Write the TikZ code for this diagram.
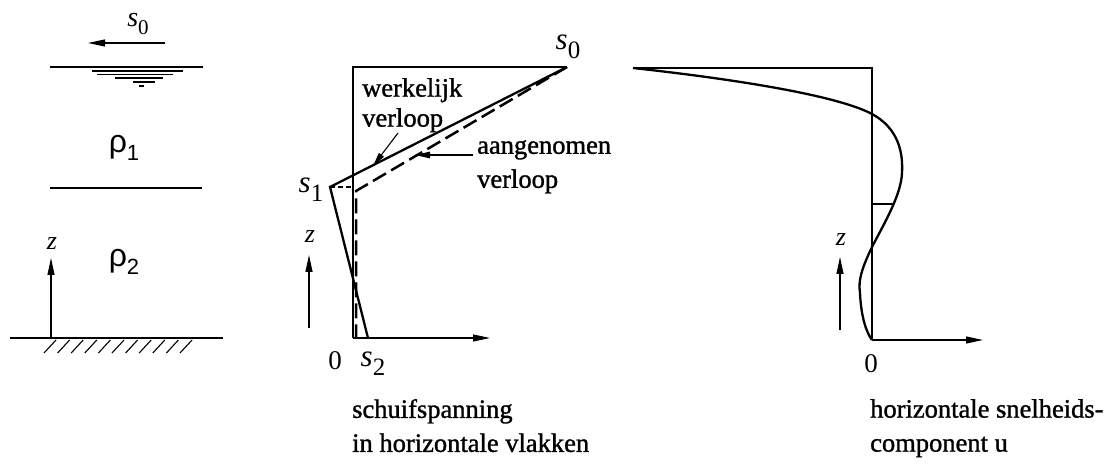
\documentclass[tikz,border=0pt]{standalone}
\usepackage{fontspec}
\setmainfont{Liberation Serif}
\newfontfamily\lblfont[FakeBold=1.2]{Liberation Serif}
\newfontfamily\rhofont{Liberation Sans}
\usetikzlibrary{arrows.meta}
\newcommand\symsub[4]{\fontsize{#3}{#3}\selectfont\textit{#1}\raisebox{-0.3em}{\fontsize{#4}{#4}\selectfont\upshape #2}}
\begin{document}
\begin{tikzpicture}[x=1pt,y=-1pt,
  thickline/.style={line width=2.8pt},
  medline/.style={line width=2.3pt},
  thinline/.style={line width=1.1pt},
  thinarrow/.style={line width=1.1pt,-{Triangle[length=17pt,width=7pt]}},
  lbl/.style={inner sep=0pt,font=\lblfont\fontsize{26.5}{34}\selectfont,align=left,anchor=north west},
  sym/.style={inner sep=0pt}]
\useasboundingbox (0,0) rectangle (1114,470);

% ---------- left panel ----------
\node[sym] (s0L) at (138,24) {\symsub{s}{0}{28}{21}};
\coordinate (a0s) at (165,43);
\coordinate (a0e) at (88,43);
\draw[thinarrow] (a0s) -- (a0e);
\coordinate (surfL) at (50,67);
\coordinate (surfR) at (203,67);
\draw[thickline] (surfL) -- (surfR);
\draw[thinline] (92,71) -- (183,71);
\draw[thinline] (97,74.5) -- (173,74.5);
\draw[thinline] (115,78) -- (163,78);
\draw[thinline] (133,82) -- (155,82);
\draw[thinline] (139,86) -- (144,86);
\node[sym] (rho1) at (124,148) {\fontsize{32}{32}\selectfont\rhofont ρ\raisebox{-0.25em}{\fontsize{22}{22}\selectfont 1}};
\coordinate (ifL) at (50,188);
\coordinate (ifR) at (202,188);
\draw[thickline] (ifL) -- (ifR);
\node[sym] (zL) at (52,244) {\fontsize{26}{26}\selectfont\textit{z}};
\coordinate (zLs) at (51,337);
\coordinate (zLe) at (51,258);
\draw[thinarrow] (zLs) -- (zLe);
\node[sym] (rho2) at (124,262) {\fontsize{32}{32}\selectfont\rhofont ρ\raisebox{-0.25em}{\fontsize{22}{22}\selectfont 2}};
\coordinate (botL) at (10,338);
\coordinate (botR) at (223,338);
\draw[thickline] (botL) -- (botR);
\foreach \i in {0,...,10}
  \draw[thinline] ({44+13.6*\i},353) -- ({56+13.6*\i},340);

% ---------- middle panel ----------
\coordinate (O1) at (353,338);
\coordinate (T1) at (353,67);
\coordinate (S0) at (567,67);
\coordinate (S1) at (330,187);
\coordinate (S2) at (368,338);
\coordinate (A1) at (353,187);
\coordinate (D1) at (356,191);
\coordinate (D2) at (356,338);
\coordinate (X1) at (490,338);
\draw[thickline] (O1) -- (T1) -- (S0);
\draw[medline] (S0) -- (S1) -- (S2);
\draw[line width=2pt,dash pattern=on 5pt off 3pt] (S1) -- (A1);
\draw[line width=2.5pt,dash pattern=on 15pt off 6pt] (S0) -- (D1) -- (D2);
\draw[thinarrow] (O1) -- (X1);
\node[sym] (s0M) at (568,47) {\symsub{s}{0}{31}{25}};
\node[sym] (s1M) at (311,190) {\symsub{s}{1}{31}{25}};
\node[sym] (s2M) at (373,364) {\symsub{s}{2}{31}{25}};
\node[sym] (zeroM) at (335,361) {\fontsize{27}{27}\selectfont 0};
\node[sym] (zM) at (310,237) {\fontsize{26}{26}\selectfont\textit{z}};
\coordinate (zMs) at (309,328);
\coordinate (zMe) at (309,255);
\draw[thinarrow] (zMs) -- (zMe);
\node[lbl,font=\lblfont\fontsize{26.5}{30}\selectfont] (werk) at (362,78) {werkelijk\\verloop};
\coordinate (wA) at (398,133);
\coordinate (wB) at (373,166);
\draw[thinline,-{Triangle[length=14pt,width=6pt]}] (wA) -- (wB);
\node[lbl] (aang) at (477,140) {aangenomen\\verloop};
\coordinate (aA) at (473,155);
\coordinate (aB) at (415,155);
\draw[thinline,-{Triangle[length=15pt,width=6.5pt]}] (aA) -- (aB);
\node[lbl] (schuif) at (352,399) {schuifspanning\\in horizontale vlakken};

% ---------- right panel ----------
\coordinate (O2) at (872,340);
\coordinate (T2) at (872,68);
\coordinate (L2) at (633,68);
\coordinate (X2) at (983,340);
\coordinate (C1) at (870,113);
\coordinate (C2) at (902,173);
\coordinate (C3) at (872,247);
\coordinate (C4) at (860,293);
\draw[thickline] (O2) -- (T2) -- (L2);
\draw[medline] (L2) .. controls (760,82) and (840,98) .. (C1)
  .. controls (900,128) and (903,155) .. (C2)
  .. controls (901,195) and (885,222) .. (C3)
  .. controls (862,268) and (858,280) .. (C4)
  .. controls (861,316) and (866,332) .. (O2);
\coordinate (tk1) at (872,204);
\coordinate (tk2) at (893,204);
\draw[thinline] (tk1) -- (tk2);
\draw[thinarrow] (O2) -- (X2);
\node[sym] (zeroR) at (871,364) {\fontsize{27}{27}\selectfont 0};
\node[sym] (zR) at (841,240) {\fontsize{26}{26}\selectfont\textit{z}};
\coordinate (zRs) at (840,330);
\coordinate (zRe) at (840,257);
\draw[thinarrow] (zRs) -- (zRe);
\node[lbl] (horiz) at (870,399) {horizontale snelheids-\\component u};
\end{tikzpicture}
\end{document}
